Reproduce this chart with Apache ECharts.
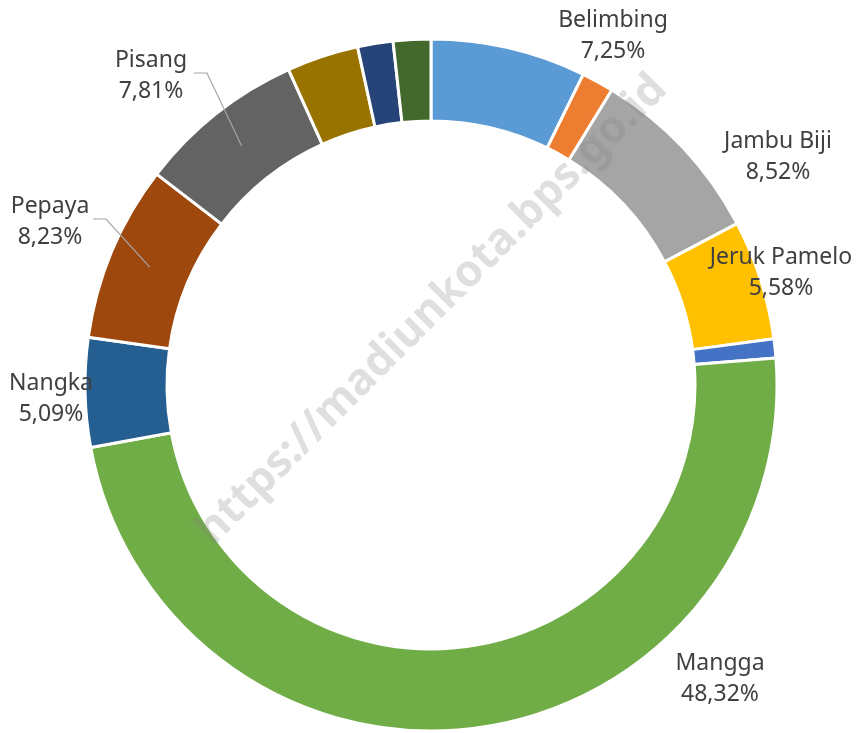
<!DOCTYPE html>
<html>
<head>
<meta charset="utf-8">
<script src="https://cdn.jsdelivr.net/npm/echarts@6/dist/echarts.min.js"></script>
<style>
  html, body { margin: 0; padding: 0; background: #fff; }
  #chart { width: 857px; height: 733px; }
</style>
</head>
<body>
<div id="chart"></div>
<script>
// data, clockwise from 12 o'clock
const names = [
  "Belimbing", "Durian", "Jambu Biji", "Jeruk Pamelo", "Jeruk Siam", "Mangga",
  "Nangka", "Pepaya", "Pisang", "Rambutan", "Salak", "Sawo"
];
const values = [7.25, 1.5, 8.52, 5.58, 0.9, 48.32, 5.09, 8.23, 7.81, 3.35, 1.65, 1.75];
const colors = [
  "#5B9BD5", "#ED7D31", "#A5A5A5", "#FFC000", "#4472C4", "#70AD47",
  "#255E91", "#9E480E", "#636363", "#997300", "#264478", "#43682B"
];
// which slices carry a label, and where (label block centre)
const labelled = ["Belimbing", "Jambu Biji", "Jeruk Pamelo", "Mangga", "Nangka", "Pepaya", "Pisang"];
const labelPos = {
  "Belimbing": [613, 36],
  "Jambu Biji": [778, 157],
  "Jeruk Pamelo": [781, 273],
  "Mangga": [720, 679],
  "Nangka": [51, 399],
  "Pepaya": [50, 222],
  "Pisang": [151, 76]
};
const withLeader = ["Pepaya", "Pisang"];

const cx = 431, cy = 385, rIn = 264, rOut = 346;

const total = values.reduce((a, b) => a + b, 0);
// middle of each slice band, used as the start of the leader line
let acc = 0;
const midPts = values.map((v) => {
  const a = 2 * Math.PI * (acc + v / 2) / total;
  acc += v;
  const r = (rIn + rOut) / 2;
  return [cx + r * Math.sin(a), cy - r * Math.cos(a)];
});

const fmt = (v) => v.toFixed(2).replace(".", ",") + "%";

const seriesData = names.map((n, i) => ({
  name: n,
  value: values[i],
  itemStyle: { color: colors[i] },
  label: { show: labelled.indexOf(n) >= 0 }
}));

// leader lines drawn on top of the ring
const leaders = withLeader.map((n) => {
  const i = names.indexOf(n);
  const pos = labelPos[n];
  return {
    type: "polyline",
    z: 50,
    silent: true,
    shape: {
      points: [midPts[i], [pos[0] + 56, pos[1] - 3], [pos[0] + 43, pos[1] - 3]]
    },
    style: { stroke: "#A6A6A6", lineWidth: 1.2, fill: null }
  };
});

const chart = echarts.init(document.getElementById("chart"));
chart.setOption({
  animation: false,
  backgroundColor: "#fff",
  series: [
    {
      type: "pie",
      center: [cx, cy],
      radius: [rIn, rOut],
      startAngle: 90,
      clockwise: true,
      avoidLabelOverlap: false,
      itemStyle: { borderColor: "#fff", borderWidth: 3 },
      label: {
        position: "outside",
        fontFamily: "Noto Sans",
        fontSize: 23,
        lineHeight: 31,
        color: "#404040",
        align: "center",
        formatter: (p) => p.name + "\n" + fmt(p.value)
      },
      labelLine: { show: false },
      labelLayout: (p) => {
        const pos = labelPos[names[p.dataIndex]];
        if (!pos) return {};
        return { x: pos[0], y: pos[1], align: "center", verticalAlign: "middle" };
      },
      emphasis: { disabled: true },
      data: seriesData
    }
  ],
  graphic: leaders.concat([
    {
      type: "text",
      x: 432,
      y: 310,
      rotation: Math.PI / 4,
      z: 100,
      silent: true,
      style: {
        text: "https://madiunkota.bps.go.id",
        fontFamily: "Noto Sans",
        fontWeight: "bold",
        fontSize: 44,
        fill: "rgba(128,128,128,0.25)",
        align: "center",
        verticalAlign: "middle"
      }
    }
  ])
});
</script>
</body>
</html>
